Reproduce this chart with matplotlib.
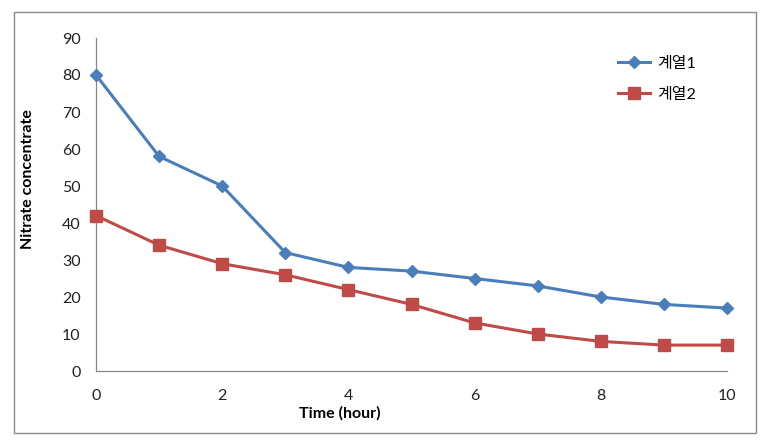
import matplotlib.pyplot as plt
from matplotlib.patches import Rectangle

plt.rcParams['font.family'] = ['Lato', 'Noto Sans CJK KR', 'DejaVu Sans']

# data
hours = [0, 1, 2, 3, 4, 5, 6, 7, 8, 9, 10]
series1 = [80, 58, 50, 32, 28, 27, 25, 23, 20, 18, 17]
series2 = [42, 34, 29, 26, 22, 18, 13, 10, 8, 7, 7]
series_names = ["계열1", "계열2"]
x_ticks = [0, 2, 4, 6, 8, 10]
y_ticks = [0, 10, 20, 30, 40, 50, 60, 70, 80, 90]

blue = "#4A7EBB"
red = "#BE4B48"
axis_gray = "#868686"

fig = plt.figure(figsize=(7.69, 4.44), dpi=100)
ax = fig.add_axes([96 / 769, 1 - 371 / 444, (727 - 96) / 769, (371 - 38) / 444])

ax.plot(hours, series1, color=blue, lw=2.2, marker="D", ms=6.5,
        label=series_names[0], clip_on=False, zorder=3)
ax.plot(hours, series2, color=red, lw=2.2, marker="s", ms=8,
        label=series_names[1], clip_on=False, zorder=3)

ax.set_xlim(0, 10)
ax.set_ylim(0, 90)
ax.set_xticks(x_ticks)
ax.set_yticks(y_ticks)
ax.tick_params(axis="both", length=0, labelsize=11.5, colors="#222222")
ax.tick_params(axis="x", pad=13)
ax.tick_params(axis="y", pad=11)

for side in ["top", "right"]:
    ax.spines[side].set_visible(False)
for side in ["left", "bottom"]:
    ax.spines[side].set_color(axis_gray)
    ax.spines[side].set_linewidth(0.9)

fig.text(340 / 769, 1 - 413 / 444, "Time (hour)", ha="center", va="center",
         fontsize=11.5, fontweight="bold")
fig.text(28 / 769, 1 - 179 / 444, "Nitrate concentrate", ha="center", va="center",
         rotation=90, fontsize=11.5, fontweight="bold")

ax.legend(loc="upper left", bbox_to_anchor=(604 / 769, 1 - 42 / 444),
          bbox_transform=fig.transFigure, frameon=False, fontsize=11.5,
          handlelength=2.0, handletextpad=0.4, labelspacing=1.05)

# outer chart border
fig.patches.append(Rectangle((14 / 769, 1 - 433 / 444), (756 - 14) / 769, (433 - 12) / 444,
                             transform=fig.transFigure, fill=False,
                             edgecolor="#888888", lw=1.0))

fig.savefig("out.png", dpi=100)
